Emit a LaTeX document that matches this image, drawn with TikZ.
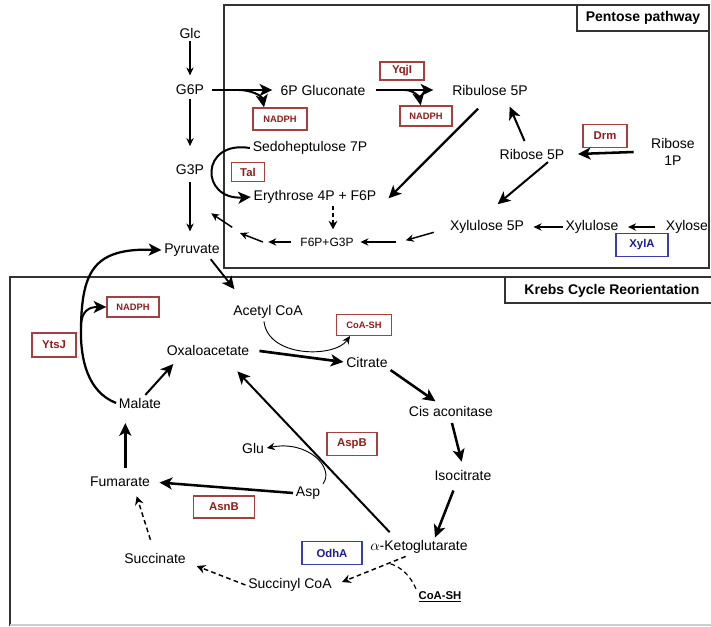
\documentclass[tikz,border=0pt]{standalone}
\usepackage{fontspec}
\setmainfont{Liberation Sans}
\usepackage{xcolor}
\usetikzlibrary{arrows.meta, calc}
\definecolor{enzred}{HTML}{8E1D1D}
\definecolor{enzredline}{HTML}{A54040}
\definecolor{enzblue}{HTML}{1D1D8E}
\definecolor{enzblueline}{HTML}{3C3CAA}
\definecolor{framegray}{HTML}{333333}

\begin{document}
\begin{tikzpicture}[x=0.75pt, y=-0.75pt,
  met/.style={inner sep=2pt, font=\fontsize{10.5}{12.75}\selectfont},
  enz/.style={draw=enzredline, text=enzred, line width=1pt, inner sep=1pt,
    font=\fontsize{8.5}{10}\selectfont\bfseries},
  cof/.style={enz, font=\fontsize{7}{8}\selectfont\bfseries},
  enzb/.style={enz, draw=enzblueline, text=enzblue},
  boxtitle/.style={font=\fontsize{10.5}{12}\selectfont\bfseries},
  frame/.style={framegray, line width=1.1pt},
  arr/.style={-{Stealth[length=6pt,width=5.5pt]}, line width=0.8pt},
  thk/.style={-{Stealth[length=9.5pt,width=9pt,inset=2.5pt]}, line width=1.9pt},
  dsh/.style={-{Stealth[length=6.5pt,width=6.5pt]}, line width=1.1pt, dash pattern=on 3.5pt off 2.5pt},
]
  \path[use as bounding box] (0,0) rectangle (711,627);

  % Frames
  \draw[frame] (224,5) rectangle (709,268);
  \draw[frame] (577,5) rectangle (709,31);
  \node[boxtitle] (pptitle) at (643,18) {Pentose pathway};
  \draw[frame] (10,626) -- (10,277) -- (716,277);
  \draw[gray!40, line width=0.8pt] (10,625) -- (716,625);
  \draw[frame] (716,303) -- (505,303) -- (505,277);
  \node[boxtitle] (kctitle) at (612,291) {Krebs Cycle Reorientation};

  % Glycolysis / pentose pathway
  \node[met] (Glc) at (190,33) {Glc};
  \node[met] (G6P) at (190,90) {G6P};
  \node[met] (G3P) at (190,170) {G3P};
  \node[met] (Pyr) at (192,250) {Pyruvate};
  \node[met] (Gluc) at (323,90) {6P Gluconate};
  \node[met] (Ribu) at (490,90) {Ribulose 5P};
  \node[met] (Sedo) at (310,148) {Sedoheptulose 7P};
  \node[met] (Ery) at (315,197) {Erythrose 4P + F6P};
  \node[met] (Ribo5) at (532,154) {Ribose 5P};
  \node[met, align=center] (Ribo1) at (673,152) {Ribose\\1P};
  \node[met] (X5P) at (487,227) {Xylulose 5P};
  \node[met] (Xylu) at (592,227) {Xylulose};
  \node[met] (Xylo) at (687,227) {Xylose};
  \node[met, font=\fontsize{9}{10}\selectfont] (F6G3) at (327,242) {F6P+G3P};

  \node[cof, minimum width=40.5pt, minimum height=16.5pt] (nad1) at (280,119) {NADPH};
  \node[enz, minimum width=33pt, minimum height=13.5pt] (yqj) at (402,71) {YqjI};
  \node[cof, minimum width=39pt, minimum height=15pt] (nad2) at (426,116) {NADPH};
  \node[enz, minimum width=33pt, minimum height=17pt] (drm) at (605,136) {Drm};
  \node[enz, minimum width=25pt, minimum height=14pt] (tal) at (248,172) {Tal};
  \node[enzb, minimum width=39pt, minimum height=17pt] (xyla) at (642,245) {XylA};

  \draw[arr, shorten >=5pt] (Glc) -- (G6P);
  \draw[arr, shorten <=1pt, shorten >=12pt] (G6P) -- (G3P);
  \draw[arr, shorten <=3pt, shorten >=7pt] (G3P.south) -- (G3P.south |- Pyr.north);

  \draw[thk, shorten <=4pt, shorten >=4pt] (G6P) -- (Gluc);
  \draw[thk, line width=1.5pt] ($(G6P.east)!0.45!(Gluc.west)$) to[out=0,in=100] ([xshift=-12pt]nad1.north);
  \draw[thk, shorten <=6pt, shorten >=12pt] (Gluc) -- (Ribu);
  \draw[thk, line width=1.5pt] ($(Gluc.east)!0.45!(Ribu.west)$) to[out=0,in=100] ([xshift=-4pt]nad2.north);

  \draw[thk, line width=1.7pt] ([xshift=-9pt,yshift=-8pt]Ribu.south) -- ([xshift=7pt,yshift=-1pt]Ery.east);
  \draw[thk, line width=1.5pt, shorten <=4pt, shorten >=7pt] ([xshift=-4pt]Ribo5.north) -- ([xshift=12pt]Ribu.south);
  \draw[thk] ([xshift=-11pt]Ribo1.west) -- ([xshift=8pt]Ribo5.east);
  \draw[thk, line width=1.5pt] ([xshift=12pt]Ribo5.south) -- ([xshift=8pt,yshift=10pt]X5P.north);

  \draw[arr, line width=1.1pt, shorten <=6pt, shorten >=5pt] (Xylo) -- (Xylu);
  \draw[arr, line width=1.1pt, shorten >=5pt] (Xylu) -- (X5P);
  \draw[arr, line width=1.1pt] ([xshift=-10pt,yshift=-4pt]X5P.west) -- ++(-28,8);
  \draw[arr, line width=1.1pt, shorten >=3pt] ([xshift=30pt]F6G3.east) -- (F6G3.east);
  \draw[arr, line width=1.1pt] ([xshift=-5pt]F6G3.west) -- ([xshift=-22pt]F6G3.west);
  \draw[arr, line width=1.1pt] ([xshift=-26pt]F6G3.west) -- ++(-23,-9);
  \draw[arr, line width=1.1pt] ([xshift=-49pt,yshift=11pt]F6G3.west) -- ++(-21,-14);

  \draw[dsh, line width=0.9pt, dash pattern=on 3pt off 2pt, shorten >=4pt] ([xshift=13.5pt]Ery.south) -- ([xshift=4.5pt]F6G3.north);
  \draw[thk, line width=1.5pt] (Sedo.west) .. controls (200,140) and (200,200) .. (Ery.west);

  % Krebs cycle
  \node[met] (Acet) at (268,312) {Acetyl CoA};
  \node[met] (Oxal) at (208,350) {Oxaloacetate};
  \node[met] (Citr) at (367,362) {Citrate};
  \node[met] (Cis) at (451,411) {Cis aconitase};
  \node[met] (Iso) at (463,475) {Isocitrate};
  \node[met] (aKG) at (419,547) {$\alpha$-Ketoglutarate};
  \node[met] (Glu) at (253,448) {Glu};
  \node[met] (Asp) at (308,493) {Asp};
  \node[met] (Fum) at (120,482) {Fumarate};
  \node[met] (Mal) at (140,403) {Malate};
  \node[met] (Succ) at (155,558) {Succinate};
  \node[met] (SucC) at (290,585) {Succinyl CoA};
  \node[inner sep=2pt, font=\fontsize{8.5}{10}\selectfont\bfseries] (coa2) at (440,597) {\underline{CoA-SH}};

  \node[cof, minimum width=41pt, minimum height=15.5pt] (coa1) at (364,325) {CoA-SH};
  \node[cof, minimum width=39pt, minimum height=15pt] (nad3) at (133,307) {NADPH};
  \node[enz, minimum width=33pt, minimum height=18pt] (ytsj) at (54,345) {YtsJ};
  \node[enz, minimum width=37.5pt, minimum height=17pt] (aspb) at (352,444) {AspB};
  \node[enz, minimum width=45.5pt, minimum height=16.5pt] (asnb) at (224,507) {AsnB};
  \node[enzb, minimum width=45pt, minimum height=17pt] (odha) at (332,553) {OdhA};

  \draw[thk, line width=1.4pt] ([xshift=14pt]Pyr.south) -- ([xshift=3pt,yshift=10pt]Acet.north west);
  \draw[thk, line width=2pt, shorten <=5.5pt] (Oxal.east) -- (Citr.west);
  \draw[arr, line width=0.7pt] ([xshift=-3pt]Acet.south) .. controls (268,358) and (335,358) .. ([xshift=-10.5pt]coa1.south);
  \draw[thk, shorten >=2pt] (Citr.south east) -- ([xshift=-10pt]Cis.north);
  \draw[thk, shorten <=3pt, shorten >=4pt] (Cis.south) -- (Iso.north);
  \draw[thk, shorten <=6pt] ([xshift=-5pt]Iso.south) -- ([xshift=12pt]aKG.north);
  \draw[thk, line width=1.5pt] ([xshift=-22pt,yshift=4pt]aKG.north) -- ([xshift=22pt,yshift=-10pt]Oxal.south);

  \draw[arr, line width=0.7pt] (Asp.north east) .. controls (335,468) and (308,440) .. (Glu.east);
  \draw[thk, shorten >=5pt] (Asp.west) -- (Fum.east);
  \draw[thk, shorten <=5pt, shorten >=9pt] ([xshift=4pt]Fum.north) -- ([xshift=-11pt]Mal.south);
  \draw[thk, line width=1.5pt, shorten >=6pt] ([xshift=4pt]Mal.north) -- ([xshift=-22pt]Oxal.south);

  % YtsJ bypass back to pyruvate
  \coordinate (ytsjfork) at (81,327);
  \draw[thk, line width=1.7pt] (Mal.west) .. controls (88,392) and (80,360) .. (ytsjfork)
    .. controls (82,270) and (95,248) .. (Pyr.west);
  \draw[thk, line width=1.5pt] (ytsjfork) .. controls (81,310) and (90,307) .. (nad3.west);

  % dashed branch
  \draw[dsh, shorten <=8pt, shorten >=5pt] ([xshift=-1pt]Succ.north) -- ([xshift=11pt]Fum.south);
  \draw[dsh] (SucC.west) -- ([xshift=6pt]Succ.south east);
  \draw[dsh, shorten >=6pt] ([xshift=-10pt]aKG.south) -- coordinate[pos=0.24] (coajoin) (SucC.east);
  \draw[dsh, line width=0.9pt, -] ([xshift=-18pt]coa2.north) .. controls (410,575) and (400,566) .. (coajoin);
\end{tikzpicture}
\end{document}
